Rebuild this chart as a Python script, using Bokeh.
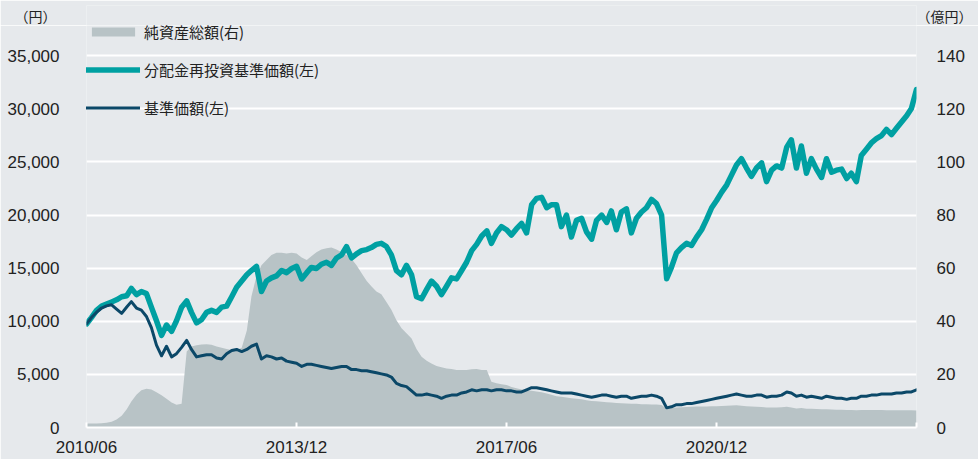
import pandas as pd
from bokeh.plotting import figure
from bokeh.layouts import column
from bokeh.models import (Range1d, LinearAxis, FixedTicker, DatetimeTickFormatter,
                          NumeralTickFormatter, Legend, LegendItem, ColumnDataSource)
from bokeh.embed import file_html
from bokeh.resources import INLINE

# ---------------- data (monthly) ----------------
start_month = "2010-06-01"

# 分配金再投資基準価額 (円, left axis)
reinvested_nav = [
    9750, 10350, 11030, 11430, 11620, 11820, 12020, 12310, 12410, 13100,
    12510, 12800, 12610, 11330, 10050, 8670, 9650, 9060, 10050, 11330,
    11920, 10840, 9850, 10150, 10840, 11030, 10840, 11330, 11430, 12310,
    13200, 13790, 14380, 14780, 15170, 12800, 13790, 14090, 14280, 14780,
    14580, 14970, 15170, 13990, 14580, 15070, 14970, 15370, 15560, 15270,
    15960, 16250, 17040, 15960, 16350, 16650, 16750, 16940, 17240, 17340,
    17040, 16250, 14780, 14380, 15270, 14380, 12310, 12120, 13000, 13790,
    13300, 12510, 13300, 14090, 13990, 14780, 15560, 16650, 17240, 18030,
    18520, 17340, 18320, 18910, 18620, 18120, 18720, 19210, 18320, 20980,
    21570, 21670, 20690, 20980, 20980, 18910, 20000, 17930, 19500, 19700,
    18420, 17730, 19500, 20000, 19310, 20390, 18620, 20290, 20590, 18320,
    19700, 20290, 20690, 21470, 21080, 20000, 14000, 15070, 16450, 16940,
    17340, 17140, 17930, 18620, 19600, 20690, 21370, 22160, 22850, 23740,
    24720, 25310, 24430, 23640, 24430, 24920, 23150, 24230, 24630, 24430,
    26400, 27090, 24430, 26500, 23940, 25310, 24330, 23540, 25310, 24030,
    24230, 24330, 23440, 23940, 23150, 25610, 26200, 26790, 27190, 27480,
    28070, 27580, 28170, 28760, 29350, 30040, 31820,
]

# 基準価額 (円, left axis)
nav = [
    9750, 10350, 10850, 11250, 11450, 11550, 11150, 10750, 11350, 11850,
    11250, 11050, 10450, 9400, 7750, 6750, 7650, 6650, 6950, 7550,
    8200, 7350, 6650, 6750, 6850, 6850, 6550, 6450, 6950, 7250,
    7350, 7150, 7350, 7650, 7850, 6450, 6750, 6650, 6450, 6550,
    6250, 6150, 6050, 5750, 5950, 5950, 5850, 5750, 5650, 5550,
    5650, 5750, 5750, 5450, 5450, 5350, 5350, 5250, 5150, 5050,
    4950, 4750, 4150, 3950, 3850, 3450, 3050, 3050, 3150, 3050,
    2950, 2750, 2950, 3050, 3050, 3250, 3350, 3550, 3450, 3550,
    3550, 3450, 3550, 3550, 3450, 3450, 3350, 3350, 3550, 3750,
    3750, 3650, 3550, 3450, 3350, 3250, 3250, 3250, 3150, 3050,
    2950, 2850, 2950, 3050, 3050, 2950, 2850, 2950, 2950, 2750,
    2850, 2950, 2950, 3050, 2950, 2750, 1850, 1950, 2150, 2150,
    2250, 2250, 2350, 2450, 2550, 2650, 2750, 2850, 2950, 3050,
    3150, 3050, 2950, 2950, 3050, 3050, 2850, 2950, 2950, 3050,
    3350, 3250, 2950, 3050, 2850, 2950, 2850, 2750, 2950, 2850,
    2750, 2750, 2650, 2750, 2750, 2950, 2950, 3050, 3050, 3150,
    3150, 3150, 3250, 3250, 3350, 3350, 3550,
]

# 純資産総額 (億円, right axis)
net_assets = [
    1.5, 1.5, 1.5, 1.6, 1.8, 2.2, 3.0, 4.4, 6.9, 9.8,
    12.3, 14.0, 14.6, 14.3, 13.3, 12.1, 10.8, 9.4, 8.6, 8.9,
    28.6, 30.5, 31.0, 31.3, 31.4, 31.2, 30.5, 30.0, 29.6, 29.2,
    29.1, 30.0, 36.5, 49.3, 57.1, 61.1, 63.1, 65.0, 65.8, 65.8,
    65.5, 65.8, 65.5, 64.0, 63.1, 64.5, 66.0, 67.0, 67.5, 67.8,
    67.0, 66.0, 65.0, 63.5, 61.1, 58.1, 55.2, 53.2, 51.2, 50.2,
    47.3, 44.3, 40.4, 37.4, 35.5, 33.5, 29.6, 26.6, 25.1, 24.1,
    23.2, 22.7, 22.2, 22.0, 21.7, 21.7, 21.7, 21.9, 22.0, 21.7,
    21.7, 17.2, 16.7, 16.3, 16.0, 15.3, 14.8, 14.3, 14.0, 13.8,
    13.6, 13.3, 12.8, 12.3, 11.8, 11.6, 11.3, 11.0, 10.8, 10.6,
    10.3, 10.0, 9.9, 9.7, 9.5, 9.4, 9.2, 9.1, 9.0, 8.9,
    8.9, 8.8, 8.8, 8.7, 8.7, 8.5, 7.1, 7.3, 7.5, 7.6,
    7.7, 7.8, 7.9, 7.9, 7.9, 8.0, 8.0, 8.1, 8.2, 8.3,
    8.4, 8.2, 8.0, 7.9, 7.8, 7.7, 7.5, 7.5, 7.5, 7.6,
    7.8, 7.5, 7.2, 7.3, 7.1, 7.1, 7.0, 6.9, 6.9, 6.8,
    6.7, 6.7, 6.6, 6.6, 6.5, 6.6, 6.6, 6.6, 6.6, 6.6,
    6.5, 6.5, 6.5, 6.5, 6.5, 6.5, 6.4,
]

x_tick_dates = ["2010-06-01", "2013-12-01", "2017-06-01", "2020-12-01", "2024-04-01"]
x_tick_labels = ["2010/06", "2013/12", "2017/06", "2020/12", ""]
y_left_ticks = [0, 5000, 10000, 15000, 20000, 25000, 30000, 35000]
y_right_ticks = [0, 20, 40, 60, 80, 100, 120, 140]
series_labels = ["純資産総額(右)", "分配金再投資基準価額(左)", "基準価額(左)"]
left_unit = "（円）"
right_unit = "（億円）"

# ---------------- style / layout ----------------
BG = "#e6e9ec"
AREA = "#b8c3c6"
TEAL = "#00a0a2"
NAVY = "#0b4868"
TXT = "#222222"
NUM_FONT = "Liberation Sans"
JP_FONT = "Noto Sans CJK JP"
NUM_SIZE = "17px"
W = 978
CAP_H = 25                 # strip above the chart that carries the unit captions
MAIN_H = 459 - CAP_H

# ---- caption strip: its left / right axes carry the unit captions ----
cap = figure(width=W, height=CAP_H, output_backend="svg", toolbar_location=None,
             x_range=Range1d(0, 1), y_range=Range1d(0, 1),
             x_axis_location=None, y_axis_location="left",
             min_border_left=86, min_border_right=62, min_border_top=5, min_border_bottom=0,
             background_fill_color=BG, border_fill_color=BG, outline_line_color=None)
cap.grid.visible = False
cap_right = LinearAxis()
cap.add_layout(cap_right, "right")
for ax, lab, standoff in ((cap.yaxis[0], left_unit, 30), (cap_right, right_unit, 0)):
    ax.ticker = FixedTicker(ticks=[])
    ax.axis_line_color = None
    ax.major_tick_line_color = None
    ax.minor_tick_line_color = None
    ax.major_tick_out = 0
    ax.major_tick_in = 0
    ax.major_label_standoff = 0
    ax.axis_label = lab
    ax.axis_label_orientation = "horizontal"
    ax.axis_label_standoff = standoff
    ax.axis_label_text_font = JP_FONT
    ax.axis_label_text_font_size = "14px"
    ax.axis_label_text_font_style = "normal"
    ax.axis_label_text_color = TXT

# ---- main chart ----
dates = pd.date_range(start_month, periods=len(reinvested_nav), freq="MS")
src = ColumnDataSource(dict(date=dates, teal=reinvested_nav, navy=nav, assets=net_assets))

Y_TOP = 37850
p = figure(width=W, height=MAIN_H, x_axis_type="datetime",
           output_backend="svg", toolbar_location=None,
           x_range=Range1d(dates[0], dates[-1]), y_range=Range1d(0, Y_TOP),
           min_border_left=86, min_border_right=62, min_border_top=0, min_border_bottom=29,
           background_fill_color=BG, border_fill_color=BG, outline_line_color=None)
p.extra_y_ranges = {"right": Range1d(0, Y_TOP / 250)}

r_area = p.varea(x="date", y1=0, y2="assets", source=src, y_range_name="right",
                 fill_color=AREA, fill_alpha=1)
r_teal = p.line("date", "teal", source=src, line_width=5.5, line_color=TEAL,
                line_join="round", line_cap="round")
r_navy = p.line("date", "navy", source=src, line_width=3, line_color=NAVY,
                line_join="round", line_cap="round")

# grid
p.xgrid.visible = False
p.ygrid.ticker = FixedTicker(ticks=y_left_ticks[1:])
p.ygrid.grid_line_color = "white"
p.ygrid.grid_line_width = 2

# left axis
ya = p.yaxis[0]
ya.ticker = FixedTicker(ticks=y_left_ticks)
ya.formatter = NumeralTickFormatter(format="0,0")
ya.axis_line_color = None
ya.major_tick_line_color = None
ya.minor_tick_line_color = None
ya.major_label_standoff = 21
ya.major_label_text_font = NUM_FONT
ya.major_label_text_font_size = NUM_SIZE
ya.major_label_text_color = TXT

# right axis
ra = LinearAxis(y_range_name="right", ticker=FixedTicker(ticks=y_right_ticks))
ra.axis_line_color = None
ra.major_tick_line_color = None
ra.minor_tick_line_color = None
ra.major_label_standoff = 14
ra.major_label_text_font = NUM_FONT
ra.major_label_text_font_size = NUM_SIZE
ra.major_label_text_color = TXT
p.add_layout(ra, "right")

# bottom axis
tick_ms = [int(pd.Timestamp(d).value // 10**6) for d in x_tick_dates]
xa = p.xaxis[0]
xa.ticker = FixedTicker(ticks=tick_ms)
fmt = "%Y/%m"
xa.formatter = DatetimeTickFormatter(milliseconds=fmt, seconds=fmt, minsec=fmt, minutes=fmt,
                                     hourmin=fmt, hours=fmt, days=fmt, months=fmt, years=fmt)
xa.major_label_overrides = {ms: lab for ms, lab in zip(tick_ms, x_tick_labels)}
xa.axis_line_color = "white"
xa.axis_line_width = 2
xa.major_tick_line_color = "white"
xa.major_tick_line_width = 2
xa.major_tick_in = 5
xa.major_tick_out = 0
xa.minor_tick_line_color = None
xa.major_label_standoff = 10
xa.major_label_text_font = NUM_FONT
xa.major_label_text_font_size = NUM_SIZE
xa.major_label_text_color = TXT

# series legend (inside the plot area)
legend = Legend(items=[LegendItem(label=series_labels[0], renderers=[r_area]),
                       LegendItem(label=series_labels[1], renderers=[r_teal]),
                       LegendItem(label=series_labels[2], renderers=[r_navy])],
                location=(0, 309), orientation="vertical",
                glyph_width=54, glyph_height=11, label_height=11, spacing=17,
                padding=0, margin=0, label_standoff=4,
                border_line_color=None, background_fill_alpha=0,
                label_text_font=JP_FONT, label_text_font_size="15px",
                label_text_color=TXT)
p.add_layout(legend)

page = column(cap, p, spacing=0)
html = file_html(page, INLINE, title="chart")
html = html.replace("<body", '<body style="background-color:%s"' % BG, 1)
open("out.html", "w").write(html)
